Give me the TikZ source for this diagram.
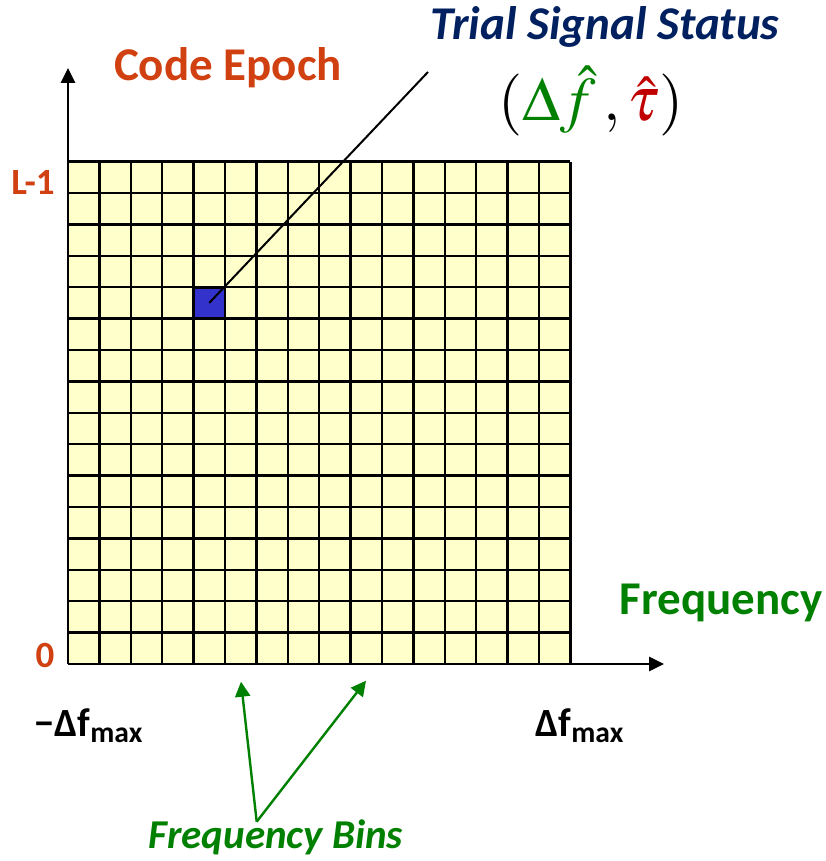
\documentclass[tikz,border=0pt]{standalone}
\usepackage{mathptmx}
\usepackage[no-math]{fontspec}
\setmainfont{Carlito}
\usepackage{xcolor}
\usetikzlibrary{arrows.meta,positioning}

\definecolor{epochred}{RGB}{208,64,16}
\definecolor{freqgreen}{RGB}{0,128,0}
\definecolor{statusblue}{RGB}{0,32,96}
\definecolor{taured}{RGB}{192,0,0}
\definecolor{binyellow}{RGB}{255,255,204}
\definecolor{trialblue}{RGB}{51,51,204}

\begin{document}
\begin{tikzpicture}[
    x=0.5pt, y=0.5pt,
    big/.style={inner sep=0pt, font=\bfseries\fontsize{23.5}{28}\selectfont},
    tick/.style={inner sep=0pt, font=\bfseries\fontsize{20}{24}\selectfont},
    cell/.style={rectangle, draw=black, line width=1.4pt, inner sep=0pt,
                 minimum size=15.7pt},
    axis/.style={-{Triangle[length=7.5pt,width=7pt]}, line width=1.3pt},
    binarr/.style={-{Triangle[length=7.5pt,width=7.5pt]}, line width=1.2pt, draw=freqgreen}
  ]
  \useasboundingbox (0,0) rectangle (825,861);
  % search grid, 16 x 16 bins
  \fill[binyellow] (68,197) rectangle (570.4,699.4);
  \foreach \i in {0,...,16} {
    \draw[line width=1.25pt] (68+\i*31.4,197) -- (68+\i*31.4,699.4);
    \draw[line width=1.25pt] (68,197+\i*31.4) -- (570.4,197+\i*31.4);
  }
  \node[cell, fill=trialblue] (trial) at (68+4.5*31.4,197+11.5*31.4) {};

  % axes
  \coordinate (origin) at (68,197);
  \coordinate (ytip) at (68,793);
  \coordinate (xtip) at (664,197);
  \draw[axis] (origin) -- (ytip);
  \draw[axis] (origin) -- (xtip);

  \node[big, text=epochred] (epoch) at (228,793) {Code Epoch};
  \node[big, text=freqgreen] (freq) at (721,258) {Frequency};
  \node[inner sep=0pt, text=epochred, font=\bfseries\fontsize{18.5}{22}\selectfont] (top) at (33,679) {L-1};
  \node[inner sep=0pt, text=epochred, font=\bfseries\fontsize{18.5}{22}\selectfont] (zero) at (45,206) {0};
  \node[tick] (fmin) at (89,135) {−Δf\textsubscript{max}};
  \node[tick] (fmax) at (580,135) {Δf\textsubscript{max}};

  % trial cell and its label
  \node[big, text=statusblue, font=\bfseries\itshape\fontsize{23.5}{28}\selectfont] (status) at (605,834) {Trial Signal Status};
  \node[inner sep=0pt, font=\fontsize{31}{37}\selectfont] (est) at (591,760)
    {$(\textcolor{freqgreen}{\Delta\hat{f}}\,,\textcolor{taured}{\hat{\tau}})$};
  \coordinate (lead) at (428,789);
  \draw[line width=1pt] (trial.center) -- (lead);

  % frequency bins
  \node[inner sep=0pt, text=freqgreen, font=\bfseries\itshape\fontsize{20.5}{24}\selectfont] (bins) at (276,24) {Frequency Bins};
  \coordinate (apex) at (256.7,39.3);
  \coordinate (bin1) at (241,179.3);
  \coordinate (bin2) at (366,180.3);
  \draw[binarr] (apex) -- (bin1);
  \draw[binarr] (apex) -- (bin2);
\end{tikzpicture}
\end{document}
